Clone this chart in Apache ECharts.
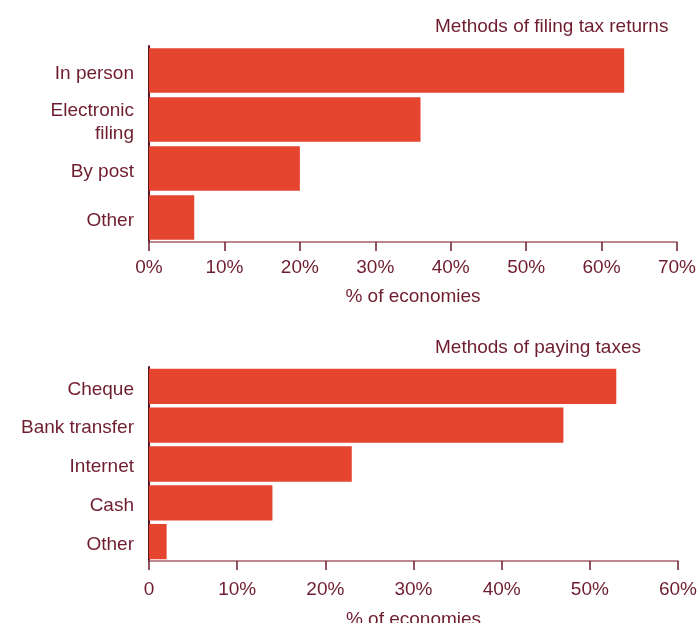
<!DOCTYPE html>
<html>
<head>
<meta charset="utf-8">
<script src="https://cdn.jsdelivr.net/npm/echarts@6/dist/echarts.min.js"></script>
<style>
    html, body { margin: 0; padding: 0; background: #fff; }
    #chart { width: 698px; height: 623px; }
</style>
</head>
<body>
<div id="chart"></div>
<script>
    // 数据
    var filingCategories = ['In person', 'Electronic\nfiling', 'By post', 'Other'];
    var filingValues = [63, 36, 20, 6];
    var payingCategories = ['Cheque', 'Bank transfer', 'Internet', 'Cash', 'Other'];
    var payingValues = [53, 47, 23, 14, 2];

    var textColor = '#6e1d2f';
    var barColor = '#e5452f';
    var fontFamily = 'Liberation Sans, Arial, sans-serif';

    function xAxisOpt(gridIndex, max, zeroLabel, margin, nameGap) {
        return {
            type: 'value',
            gridIndex: gridIndex,
            min: 0,
            max: max,
            interval: 10,
            name: '% of economies',
            nameLocation: 'middle',
            nameGap: nameGap,
            nameTextStyle: { color: textColor, fontSize: 19, fontFamily: fontFamily },
            splitLine: { show: false },
            axisLine: { show: true, lineStyle: { color: '#a5626d', width: 1.5 } },
            axisTick: { show: true, length: 9, lineStyle: { color: '#6e1d2f', width: 1.5 } },
            axisLabel: {
                color: textColor,
                fontSize: 19,
                fontFamily: fontFamily,
                margin: margin,
                formatter: function (v) {
                    return (v === 0 && zeroLabel) ? zeroLabel : v + '%';
                }
            }
        };
    }

    function yAxisOpt(gridIndex, data) {
        return {
            type: 'category',
            gridIndex: gridIndex,
            data: data,
            inverse: true,
            axisLine: { show: true, lineStyle: { color: '#5a1522', width: 2 } },
            axisTick: { show: false },
            axisLabel: {
                margin: 15,
                align: 'right',
                // 每行单独包一层 rich，用 padding 把文字往下挪一点
                formatter: function (v) {
                    return v.split('\n').map(function (s) {
                        return '{a|' + s + '}';
                    }).join('\n');
                },
                rich: {
                    a: {
                        color: textColor,
                        fontSize: 19,
                        fontFamily: fontFamily,
                        lineHeight: 23,
                        padding: [6, 0, 0, 0]
                    }
                }
            }
        };
    }

    var myChart = echarts.init(document.getElementById('chart'));
    myChart.setOption({
        animation: false,
        title: [
            {
                text: 'Methods of filing tax returns',
                left: 430,
                top: 12,
                textStyle: { color: textColor, fontSize: 19, fontWeight: 'normal', fontFamily: fontFamily }
            },
            {
                text: 'Methods of paying taxes',
                left: 430,
                top: 333,
                textStyle: { color: textColor, fontSize: 19, fontWeight: 'normal', fontFamily: fontFamily }
            }
        ],
        grid: [
            { left: 149, right: 21, top: 46, height: 196, outerBoundsMode: 'none' },
            { left: 149, right: 20, top: 367, height: 194, outerBoundsMode: 'none' }
        ],
        xAxis: [
            xAxisOpt(0, 70, null, 16, 45),
            xAxisOpt(1, 60, '0', 19, 49)
        ],
        yAxis: [
            yAxisOpt(0, filingCategories),
            yAxisOpt(1, payingCategories)
        ],
        series: [
            {
                type: 'bar',
                xAxisIndex: 0,
                yAxisIndex: 0,
                data: filingValues,
                barCategoryGap: '9%',
                itemStyle: { color: barColor }
            },
            {
                type: 'bar',
                xAxisIndex: 1,
                yAxisIndex: 1,
                data: payingValues,
                barCategoryGap: '9%',
                itemStyle: { color: barColor }
            }
        ]
    });
</script>
</body>
</html>
